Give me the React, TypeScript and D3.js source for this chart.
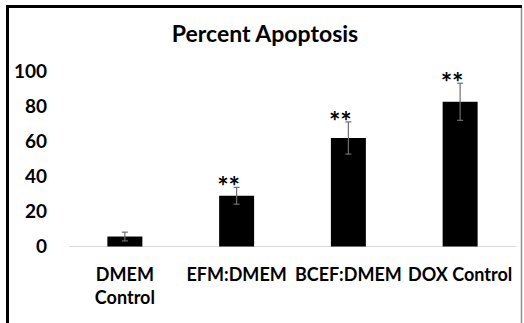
import React, {useEffect, useRef} from 'react';
import * as d3 from 'd3';

const categories: string[][] = [['DMEM', 'Control'], ['EFM:DMEM'], ['BCEF:DMEM'], ['DOX Control']];
const values: number[] = [5.7, 29, 62, 82.7];
const errors: number[] = [2.5, 4.8, 9.2, 10.6];
const stars: string[] = ['', '**', '**', '**'];
const yTicks: number[] = [0, 20, 40, 60, 80, 100];

const W = 524;
const H = 323;
const FONT = 'Lato, "Open Sans", sans-serif';

export default function App() {
  const svgRef = useRef<SVGSVGElement>(null);

  useEffect(() => {
    const svg = d3.select(svgRef.current);
    svg.selectAll('*').remove();

    const x = d3.scaleBand<number>()
      .domain(d3.range(values.length))
      .range([69, 516])
      .paddingInner(0.687)
      .paddingOuter(0.3435);
    const y = d3.scaleLinear().domain([0, 100]).range([246.5, 71.5]);

    // frame
    svg.append('line').attr('x1', 7.5).attr('x2', 7.5).attr('y1', 5).attr('y2', H)
      .attr('stroke', '#000').attr('stroke-width', 3);
    svg.append('line').attr('x1', 6).attr('x2', 522).attr('y1', 6.5).attr('y2', 6.5)
      .attr('stroke', '#000').attr('stroke-width', 3);
    svg.append('line').attr('x1', 521.5).attr('x2', 521.5).attr('y1', 8).attr('y2', H)
      .attr('stroke', '#8c8c8c').attr('stroke-width', 1.5);

    svg.append('text')
      .attr('x', 265).attr('y', 34).attr('dy', '0.35em')
      .attr('text-anchor', 'middle')
      .attr('font-family', FONT).attr('font-weight', 700).attr('font-size', 23)
      .text('Percent Apoptosis');

    // y tick labels (no axis line)
    svg.append('g').selectAll('text').data(yTicks).join('text')
      .attr('x', 47).attr('y', d => y(d)).attr('dy', '0.35em')
      .attr('text-anchor', 'end')
      .attr('font-family', FONT).attr('font-weight', 700).attr('font-size', 19)
      .text(d => d);

    // baseline
    svg.append('line').attr('x1', 69).attr('x2', 516).attr('y1', y(0)).attr('y2', y(0))
      .attr('stroke', '#d9d9d9').attr('stroke-width', 1.2);

    svg.append('g').selectAll('rect').data(values).join('rect')
      .attr('x', (d, i) => x(i)!)
      .attr('width', x.bandwidth())
      .attr('y', d => y(d))
      .attr('height', d => y(0) - y(d))
      .attr('fill', '#000');

    const eb = svg.append('g').attr('stroke', '#6e6e6e').attr('stroke-width', 1.2);
    values.forEach((v, i) => {
      const cx = x(i)! + x.bandwidth() / 2;
      const top = y(v + errors[i]);
      const bot = y(v - errors[i]);
      eb.append('line').attr('x1', cx).attr('x2', cx).attr('y1', top).attr('y2', bot);
      eb.append('line').attr('x1', cx - 3).attr('x2', cx + 3).attr('y1', top).attr('y2', top);
      eb.append('line').attr('x1', cx - 3).attr('x2', cx + 3).attr('y1', bot).attr('y2', bot);
    });

    svg.append('g').selectAll('text').data(stars).join('text')
      .attr('x', (d, i) => x(i)! + x.bandwidth() / 2 - 8)
      .attr('y', (d, i) => y(values[i] + errors[i]) + 9)
      .attr('text-anchor', 'middle')
      .attr('font-family', FONT).attr('font-weight', 700).attr('font-size', 27)
      .text(d => d);

    const cat = svg.append('g').selectAll('text').data(categories).join('text')
      .attr('x', (d, i) => x(i)! + x.bandwidth() / 2)
      .attr('y', 274.5)
      .attr('text-anchor', 'middle')
      .attr('font-family', FONT).attr('font-weight', 700).attr('font-size', 18);
    cat.selectAll('tspan').data(d => d).join('tspan')
      .attr('x', function () {
        return (this as any).parentNode.getAttribute('x');
      })
      .attr('dy', (d, j) => (j === 0 ? '0.35em' : 23))
      .text(d => d);
  }, []);

  return (
    <svg ref={svgRef} width={W} height={H}
      style={{position: 'absolute', left: 0, top: 0, background: '#fff'}} />
  );
}
